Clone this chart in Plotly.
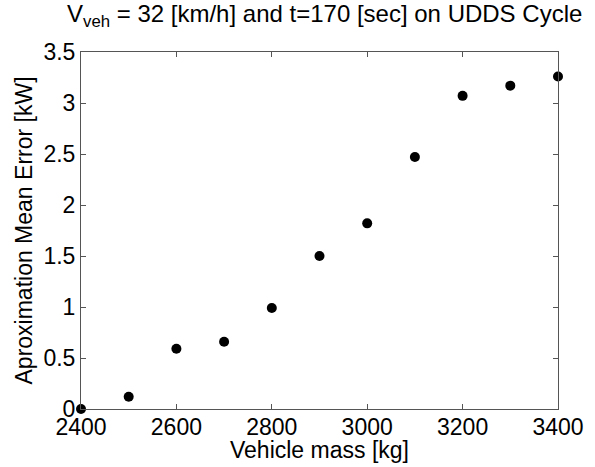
import plotly.graph_objects as go

# Vehicle mass sweep and the mean approximation error at each step
vehicle_mass = [2400, 2500, 2600, 2700, 2800, 2900, 3000, 3100, 3200, 3300, 3400]
mean_error_kw = [0.0, 0.12, 0.59, 0.66, 0.99, 1.50, 1.82, 2.47, 3.07, 3.17, 3.26]

x_ticks = [2400, 2600, 2800, 3000, 3200, 3400]
y_ticks = [0, 0.5, 1, 1.5, 2, 2.5, 3, 3.5]
y_tick_text = ["0", "0.5", "1", "1.5", "2", "2.5", "3", "3.5"]

FONT = "Liberation Sans, Arial, sans-serif"
AXIS_COLOR = "#555555"

fig = go.Figure()

fig.add_trace(go.Scatter(
    x=vehicle_mass, y=mean_error_kw,
    mode="markers",
    marker=dict(size=10, color="black", line=dict(width=0)),
    cliponaxis=False,
    showlegend=False,
))

axis_common = dict(
    showgrid=False, zeroline=False,
    showline=True, linecolor=AXIS_COLOR, linewidth=1,
    mirror="allticks",
    ticks="inside", ticklen=5, tickcolor=AXIS_COLOR,
    tickfont=dict(family=FONT, size=23, color="black"),
    automargin=False,
)

fig.update_layout(
    width=595, height=467,
    margin=dict(l=81, r=37, t=52, b=58),
    plot_bgcolor="white",
    paper_bgcolor="white",
    font=dict(family=FONT, color="black"),
    xaxis=dict(range=[2400, 3400], tickvals=x_ticks, ticklabelstandoff=-3, **axis_common),
    yaxis=dict(range=[0, 3.5], tickvals=y_ticks, ticktext=y_tick_text, **axis_common),
    showlegend=False,
)

# Axis titles placed by hand so the plot area stays fixed
fig.add_annotation(
    x=0.5, y=-0.115, xref="paper", yref="paper",
    xanchor="center", yanchor="middle",
    text="Vehicle mass [kg]", showarrow=False,
    font=dict(family=FONT, size=23, color="black"),
)
fig.add_annotation(
    x=-0.1195, y=0.5, xref="paper", yref="paper",
    xanchor="center", yanchor="middle", textangle=-90,
    text="Aproximation Mean Error [kW]", showarrow=False,
    font=dict(family=FONT, size=23, color="black"),
)

fig.add_annotation(
    x=0.511, y=1.0, xref="paper", yref="paper",
    yanchor="bottom", yshift=19,
    text="V<sub>veh</sub> = 32 [km/h] and t=170 [sec] on UDDS Cycle",
    showarrow=False,
    font=dict(family=FONT, size=24, color="black"),
)

# drop the default body margin so the figure fills the window exactly
fig.write_html(
    "out.html",
    config={"displayModeBar": False},
    post_script="document.body.style.margin='0';",
)
